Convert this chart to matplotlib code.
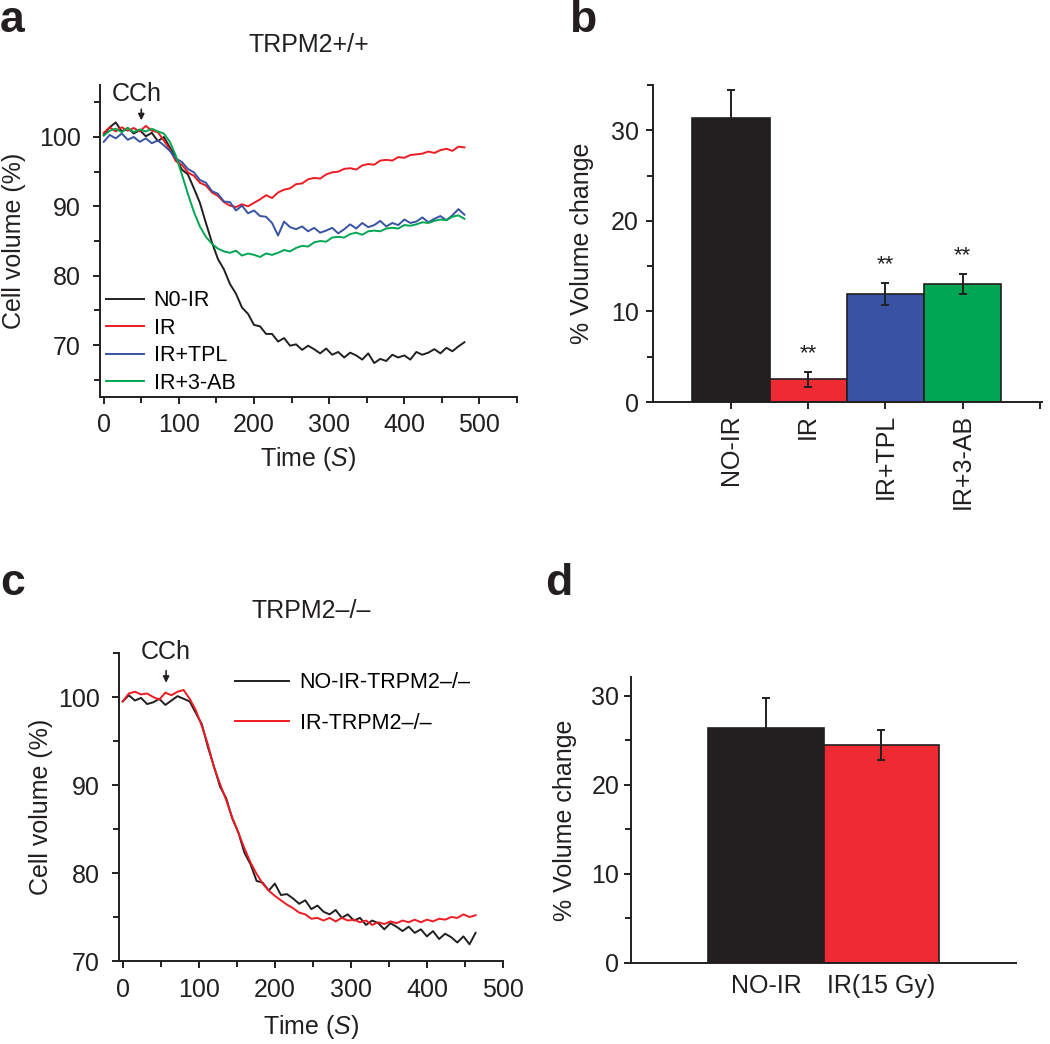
import numpy as np
import matplotlib
matplotlib.use("Agg")
import matplotlib.pyplot as plt
from matplotlib.ticker import MultipleLocator

plt.rcParams['font.family'] = ['Liberation Sans', 'DejaVu Sans']
plt.rcParams['mathtext.fontset'] = 'custom'
plt.rcParams['mathtext.rm'] = 'Liberation Sans'
plt.rcParams['mathtext.it'] = 'Liberation Sans:italic'

INK = '#231f20'
RED = '#ed1c24'
BLUE = '#3953a4'
GREEN = '#00a651'

# panel a: TRPM2+/+ cell volume traces (%), one sample every 8 s
time_a = np.arange(0, 481, 8)
no_ir = [100.3, 101.4, 102.1, 100.8, 101.3, 100.5, 101.0, 100.1, 100.6, 99.4,
         100.0, 98.5, 97.0, 95.3, 94.6, 92.6, 90.5, 87.6, 84.8, 82.4,
         80.9, 78.8, 77.4, 75.4, 74.5, 72.9, 72.7, 71.6, 71.6,
         70.5, 71.0, 69.9, 70.1, 69.3, 69.9, 69.4, 68.8, 69.5, 68.6,
         69.0, 68.2, 68.9, 68.5, 67.9, 68.8, 67.4, 68.0, 67.7, 68.6,
         68.2, 68.5, 67.9, 69.0, 68.6, 68.9, 69.4, 68.8, 69.6, 69.1,
         69.8, 70.4]
ir = [100.6, 101.4, 100.8, 101.4, 100.9, 101.3, 100.8, 101.6, 100.9, 100.7,
      99.5, 98.2, 96.5, 96.0, 94.9, 94.4, 93.4, 93.0, 92.0, 91.5,
      90.6, 90.1, 89.9, 90.3, 90.0, 90.5, 91.0, 91.6, 91.2, 92.0,
      92.4, 92.6, 93.2, 93.3, 93.9, 94.1, 94.0, 94.6, 94.9, 95.0,
      95.4, 95.5, 95.3, 95.9, 96.1, 96.0, 96.6, 96.7, 96.6, 97.1,
      97.0, 97.4, 97.5, 97.6, 97.9, 97.7, 98.1, 98.3, 98.0, 98.6, 98.5]
ir_tpl = [99.3, 100.3, 99.8, 100.5, 99.6, 100.0, 99.3, 99.8, 99.1, 99.5,
          98.8, 98.0, 96.9, 96.4, 95.4, 94.9, 93.8, 93.4, 92.2, 91.8,
          90.7, 90.6, 89.4, 90.1, 89.0, 89.4, 88.6, 88.5, 87.6, 85.8,
          87.8, 87.0, 86.7, 87.1, 86.4, 86.9, 86.2, 86.5, 86.9, 86.1,
          86.7, 87.4, 86.8, 87.6, 87.0, 87.3, 87.9, 87.1, 87.6, 87.3,
          88.1, 87.6, 87.8, 88.4, 87.7, 88.2, 88.6, 88.0, 88.7, 89.6, 88.8]
ir_3ab = [100.2, 100.9, 101.2, 100.7, 101.3, 100.7, 101.1, 100.8, 101.2, 100.8,
          100.5, 99.3, 97.3, 94.6, 91.8, 89.2, 87.1, 85.6, 84.6,
          83.9, 83.5, 83.3, 83.6, 82.9, 83.2, 83.0, 82.7, 83.2, 83.0,
          83.3, 83.7, 83.5, 84.0, 84.3, 84.2, 84.8, 85.0, 84.9, 85.5,
          85.6, 85.5, 86.0, 86.2, 85.9, 86.4, 86.5, 86.4, 86.8, 86.9,
          86.8, 87.3, 87.2, 87.4, 87.7, 87.6, 87.9, 88.1, 88.0, 88.5,
          88.7, 88.2]
labels_a = ['N0-IR', 'IR', 'IR+TPL', 'IR+3-AB']

# panel b
groups_b = ['NO-IR', 'IR', 'IR+TPL', 'IR+3-AB']
change_b = [31.3, 2.5, 11.9, 13.0]
err_b = [3.1, 0.8, 1.2, 1.1]
stars_b = ['', '**', '**', '**']

# panel c: TRPM2-/- traces
time_c = np.arange(0, 465, 8)
no_ir_ko = [99.5, 100.2, 99.6, 99.9, 99.2, 99.4, 99.8, 99.1, 99.6, 100.1,
            99.8, 99.5, 98.2, 96.9, 94.3, 92.1, 89.8, 88.5, 86.2, 84.6,
            82.3, 81.0, 79.1,
            78.9, 78.0, 78.8, 77.5, 77.6, 77.1, 76.5, 76.9, 75.9, 76.3,
            75.6, 75.3, 75.8, 74.9, 75.3, 74.6, 74.9, 74.1, 74.6, 74.3,
            73.6, 74.3, 73.9, 73.4, 73.9, 73.2, 73.6, 72.8, 73.4, 72.5,
            73.1, 72.7, 72.1, 72.8, 71.9, 73.2]
ir_ko = [99.5, 100.4, 100.6, 100.3, 100.4, 100.0, 99.7, 100.5, 100.2, 100.6,
         100.8, 99.8, 98.5, 96.7, 94.6, 92.0, 90.1, 88.3, 86.3, 84.6,
         82.8, 81.2, 79.9, 78.8, 78.0, 77.4, 76.9, 76.4, 76.0, 75.5,
         75.3, 74.8, 74.9, 74.6, 74.9, 74.5, 74.9, 74.6, 74.7, 74.4,
         74.6, 74.1, 74.4, 74.2, 74.5, 74.3, 74.6, 74.4, 74.7, 74.4,
         74.7, 74.5, 74.8, 74.7, 75.0, 74.9, 75.3, 75.0, 75.2]
labels_c = ['NO-IR-TRPM2\u2013/\u2013', 'IR-TRPM2\u2013/\u2013']

# panel d
groups_d = ['NO-IR', 'IR(15 Gy)']
change_d = [26.4, 24.5]
err_d = [3.3, 1.7]

FS = 18
LFS = 15.5


def style(ax):
    for s in ['top', 'right']:
        ax.spines[s].set_visible(False)
    for s in ['left', 'bottom']:
        ax.spines[s].set_linewidth(1.4)
        ax.spines[s].set_color(INK)
    ax.tick_params(which='both', direction='out', width=1.4, color=INK,
                   labelsize=FS, labelcolor=INK)
    ax.tick_params(which='major', length=5)
    ax.tick_params(which='minor', length=4)


fig = plt.figure(figsize=(10.5, 10.44), dpi=100)

# ---- a
ax = fig.add_axes([0.0952, 0.6197, 0.3972, 0.2989])
for y, c, lab in zip([no_ir, ir, ir_tpl, ir_3ab], [INK, RED, BLUE, GREEN], labels_a):
    ax.plot(time_a, y, color=c, lw=1.4, label=lab)
ax.set_xlim(-5, 550)
ax.set_ylim(62.5, 107.5)
ax.xaxis.set_major_locator(MultipleLocator(100))
ax.xaxis.set_minor_locator(MultipleLocator(50))
ax.yaxis.set_minor_locator(MultipleLocator(5))
ax.set_yticks([70, 80, 90, 100])
style(ax)
ax.tick_params(axis='y', pad=9)
ax.tick_params(axis='x', pad=6.5)
ax.set_xlabel('Time ($\\mathit{S}$)', fontsize=FS, color=INK, labelpad=6)
ax.set_ylabel('Cell volume (%)', fontsize=FS, color=INK, labelpad=9)
ax.set_title('TRPM2+/+', fontsize=FS, color=INK, pad=24)
ax.annotate('', xy=(50, 102.0), xytext=(50, 104.4),
            arrowprops=dict(arrowstyle='-|>', color=INK, lw=1.2, mutation_scale=9),
            annotation_clip=False)
ax.text(44, 104.5, 'CCh', fontsize=FS, color=INK, ha='center', va='bottom')
ax.legend(loc='upper left', bbox_to_anchor=(-0.005, 0.369), frameon=False,
          fontsize=LFS, handlelength=1.72, handletextpad=0.47, labelspacing=0.3,
          borderaxespad=0)
fig.text(0.0, 0.9693, 'a', fontsize=32, fontweight='bold', color=INK, va='baseline')

# ---- b
ax = fig.add_axes([0.6219, 0.6149, 0.3705, 0.3037])
xb = np.arange(len(groups_b))
ax.bar(xb, change_b, width=1.0, color=[INK, '#ee2a33', BLUE, GREEN],
       edgecolor=INK, linewidth=1.2)
ax.errorbar(xb, change_b, yerr=err_b, fmt='none', ecolor=INK, elinewidth=1.4,
            capsize=3, capthick=1.4)
for x, v, e, s in zip(xb, change_b, err_b, stars_b):
    if s:
        ax.text(x, v + e + 0.9, s, ha='center', va='bottom', fontsize=16, color=INK)
ax.set_xlim(-1.01, 4.03)
ax.set_ylim(0, 35)
ax.set_xticks(list(xb) + [4])
ax.set_xticklabels(groups_b + [''], rotation=90)
ax.yaxis.set_major_locator(MultipleLocator(10))
ax.yaxis.set_minor_locator(MultipleLocator(5))
style(ax)
ax.tick_params(axis='y', pad=5)
ax.set_ylabel('% Volume change', fontsize=FS, color=INK, labelpad=12)
fig.text(0.542, 0.9693, 'b', fontsize=32, fontweight='bold', color=INK, va='baseline')

# ---- c
ax = fig.add_axes([0.1133, 0.0795, 0.3657, 0.295])
ax.plot(time_c, no_ir_ko, color=INK, lw=1.4, label=labels_c[0])
ax.plot(time_c, ir_ko, color=RED, lw=1.4, label=labels_c[1])
ax.set_xlim(-5, 500)
ax.set_ylim(70, 105)
ax.xaxis.set_major_locator(MultipleLocator(100))
ax.xaxis.set_minor_locator(MultipleLocator(50))
ax.yaxis.set_minor_locator(MultipleLocator(5))
ax.set_yticks([70, 80, 90, 100])
style(ax)
ax.tick_params(axis='y', pad=9)
ax.tick_params(axis='x', pad=7)
ax.set_xlabel('Time ($\\mathit{S}$)', fontsize=FS, color=INK, labelpad=8)
ax.set_ylabel('Cell volume (%)', fontsize=FS, color=INK, labelpad=3)
ax.set_title('TRPM2\u2013/\u2013', fontsize=FS, color=INK, pad=25)
ax.annotate('', xy=(57, 101.3), xytext=(57, 103.3),
            arrowprops=dict(arrowstyle='-|>', color=INK, lw=1.2, mutation_scale=9),
            annotation_clip=False)
ax.text(57, 103.8, 'CCh', fontsize=FS, color=INK, ha='center', va='bottom')
ax.legend(loc='upper left', bbox_to_anchor=(0.28, 0.966), frameon=False,
          fontsize=LFS, handlelength=2.5, handletextpad=0.5, labelspacing=0.92,
          borderaxespad=0)
fig.text(0.0, 0.43, 'c', fontsize=32, fontweight='bold', color=INK, va='baseline')

# ---- d
ax = fig.add_axes([0.601, 0.0776, 0.3667, 0.2739])
xd = np.arange(len(groups_d))
ax.bar(xd, change_d, width=1.0, color=[INK, '#ee2a33'], edgecolor=INK, linewidth=1.2)
ax.errorbar(xd, change_d, yerr=err_d, fmt='none', ecolor=INK, elinewidth=1.4,
            capsize=3, capthick=1.4)
ax.set_xlim(-1.17, 2.17)
ax.set_ylim(0, 32.1)
ax.set_xticks(xd)
ax.set_xticklabels(groups_d)
ax.yaxis.set_major_locator(MultipleLocator(10))
ax.yaxis.set_minor_locator(MultipleLocator(5))
style(ax)
ax.tick_params(axis='x', length=0, pad=8)
ax.set_ylabel('% Volume change', fontsize=FS, color=INK, labelpad=10)
fig.text(0.519, 0.43, 'd', fontsize=32, fontweight='bold', color=INK, va='baseline')

fig.savefig('out.png', dpi=100)
